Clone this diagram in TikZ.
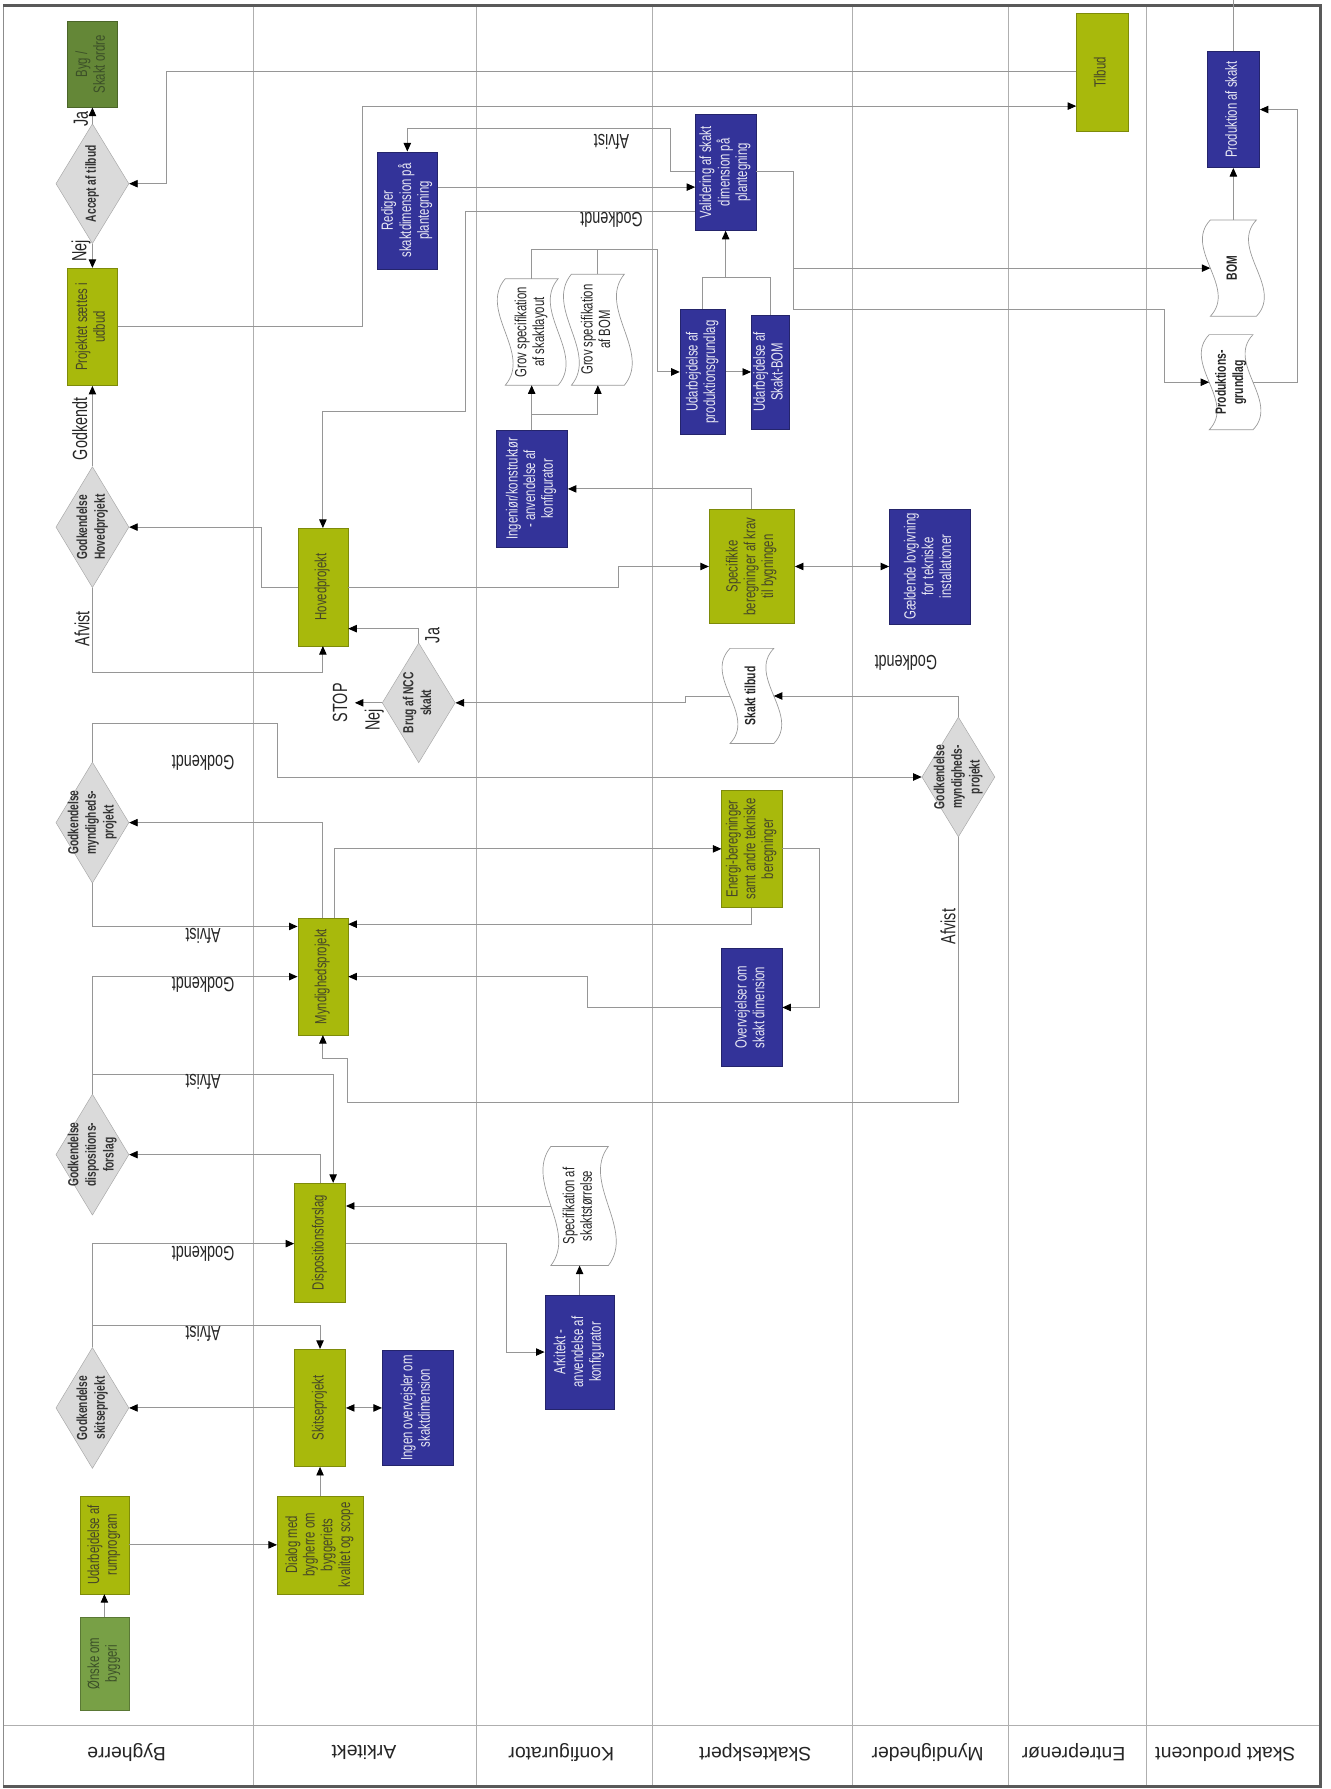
\documentclass[tikz,border=0pt]{standalone}
\usepackage{fontspec}
\setmainfont{Liberation Sans}
\newfontfamily\cf{Liberation Sans}[FakeStretch=0.7]
\usepackage{graphicx}
\usetikzlibrary{shapes.geometric,arrows.meta,calc}
\definecolor{ygreen}{RGB}{168,185,12}
\definecolor{nblue}{RGB}{51,51,153}
\definecolor{dgreenA}{RGB}{120,160,70}
\definecolor{dgreenB}{RGB}{100,135,55}
\definecolor{dgrey}{RGB}{218,218,218}
\definecolor{lgrey}{RGB}{150,150,150}
\definecolor{lanegrey}{RGB}{175,175,175}
\definecolor{ytext}{RGB}{70,70,40}
\definecolor{gtext}{RGB}{60,80,40}
\newcommand\R[1]{\rotatebox{90}{\begin{tabular}{@{}c@{}}#1\end{tabular}}}
\newcommand\wavy[1]{\draw[docline] (#1.north west) -- (#1.north east)
 .. controls ($(#1.north east)!0.3!(#1.south east)+(-24,0)$) and ($(#1.north east)!0.7!(#1.south east)+(24,0)$) .. (#1.south east)
 -- (#1.south west)
 .. controls ($(#1.south west)!0.3!(#1.north west)+(24,0)$) and ($(#1.south west)!0.7!(#1.north west)+(-24,0)$) .. cycle;}
\tikzset{
 bx/.style={inner sep=0pt, font=\cf\fontsize{14.2}{15.5}\selectfont},
 yb/.style={bx, fill=ygreen, draw=ygreen!75!black, text=ytext},
 bb/.style={bx, fill=nblue, draw=nblue!70!black, text=white!88!nblue},
 gb/.style={bx, fill=#1, draw=#1!75!black, text=gtext},
 dia/.style={diamond, fill=dgrey, draw=black!35, inner sep=0pt},
 dtxt/.style={inner sep=0pt, font=\cf\bfseries\fontsize{12.8}{15.5}\selectfont, text=black!80},
 docb/.style={inner sep=0pt},
 doctxt/.style={inner sep=0pt, font=\cf\fontsize{14.2}{15.5}\selectfont, text=black!85},
 docline/.style={draw=black!40, fill=white, line width=0.6pt},
 arr/.style={draw=lgrey, line width=0.8pt, -{Triangle[length=7.5pt,width=6.5pt,color=black]}},
 ln/.style={draw=lgrey, line width=0.8pt},
 darr/.style={draw=lgrey, line width=0.8pt, {Triangle[length=7.5pt,width=6.5pt,color=black]}-{Triangle[length=7.5pt,width=6.5pt,color=black]}},
 lab/.style={inner sep=0pt, font=\cf\fontsize{18}{18}\selectfont, text=black!85},
 lane/.style={draw=lanegrey, line width=1pt},
 lanelab/.style={inner sep=0pt, rotate=180, font=\fontsize{17}{17}\selectfont, text=black!85},
}
\begin{document}
\begin{tikzpicture}[x=1pt,y=-1pt]
\useasboundingbox (0,0) rectangle (1166,1568);
\fill[white] (0,0) rectangle (1166,1568);
% lanes
\foreach \lx in {222,418,572,747,884,1005} \draw[lane] (\lx,5) -- (\lx,1566);
\draw[lane] (3,1512) -- (1157,1512);
\draw[draw=black!45, line width=1pt] (3,5) -- (3,1566);
\draw[draw=black!65, line width=2.5pt] (3,5) -- (1157,5) -- (1157,1566) -- (3,1566);
\node[lanelab] (l1) at (111,1536) {Bygherre};
\node[lanelab] (l2) at (319,1536) {Arkitekt};
\node[lanelab] (l3) at (492,1536) {Konfigurator};
\node[lanelab] (l4) at (662,1536) {Skakteskpert};
\node[lanelab] (l5) at (813,1536) {Myndigheder};
\node[lanelab] (l6) at (941,1536) {Entreprenør};
\node[lanelab] (l7) at (1074,1536) {Skakt producent};
% Bygherre
\node[gb=dgreenA, minimum width=43pt, minimum height=82pt] (onske) at (91.5,1458) {\R{Ønske om\\byggeri}};
\node[yb, minimum width=43pt, minimum height=86pt] (rum) at (91.5,1354) {\R{Udarbejdelse af\\rumprogram}};
\node[dia, minimum width=64pt, minimum height=106pt] (gskit) at (81,1234) {};
\node[dtxt] (gskitT) at (gskit) {\R{Godkendelse\\skitseprojekt}};
\node[dia, minimum width=64pt, minimum height=106pt] (gdisp) at (81,1012) {};
\node[dtxt] (gdispT) at (gdisp) {\R{Godkendelse\\dispositions-\\forslag}};
\node[dia, minimum width=64pt, minimum height=106pt] (gmynd) at (81,721) {};
\node[dtxt] (gmyndT) at (gmynd) {\R{Godkendelse\\myndigheds-\\projekt}};
\node[dia, minimum width=64pt, minimum height=106pt] (ghoved) at (81,462) {};
\node[dtxt] (ghovedT) at (ghoved) {\R{Godkendelse\\Hovedprojekt}};
\node[yb, minimum width=44pt, minimum height=103pt] (udbud) at (81,286.5) {\R{Projektet sættes i\\udbud}};
\node[dia, minimum width=64pt, minimum height=105pt] (accept) at (81,161) {};
\node[dtxt] (acceptT) at (accept) {\R{Accept af tilbud}};
\node[gb=dgreenB, minimum width=44pt, minimum height=75pt] (byg) at (81,56.5) {\R{Byg /\\Skakt ordre}};
% Arkitekt
\node[yb, minimum width=75pt, minimum height=86pt] (dialog) at (280.5,1354) {\R{Dialog med\\bygherre om\\byggeriets\\kvalitet og scope}};
\node[yb, minimum width=45pt, minimum height=103pt] (skit) at (280.5,1234) {\R{Skitseprojekt}};
\node[bb, minimum width=62pt, minimum height=101pt] (ingen) at (366,1234) {\R{Ingen overvejsler om\\skaktdimension}};
\node[yb, minimum width=45pt, minimum height=104pt] (disp) at (280.5,1089) {\R{Dispositionsforslag}};
\node[yb, minimum width=44pt, minimum height=102pt] (mynd) at (283,856) {\R{Myndighedsprojekt}};
\node[dia, minimum width=64pt, minimum height=105pt] (ncc) at (367,616) {};
\node[dtxt] (nccT) at (ncc) {\R{Brug af NCC\\skakt}};
\node[yb, minimum width=44pt, minimum height=103pt] (hoved) at (283,514.5) {\R{Hovedprojekt}};
\node[bb, minimum width=53pt, minimum height=103pt] (rediger) at (357,184.5) {\R{Rediger\\skaktdimension på\\plantegning}};
% Konfigurator
\node[bb, minimum width=61pt, minimum height=100pt] (arkkonf) at (508,1185) {\R{Arkitekt -\\anvendelse af\\konfigurator}};
\node[docb, minimum width=50pt, minimum height=104pt] (specstr) at (508,1057) {};
\wavy{specstr}
\node[doctxt] (specstrT) at (specstr) {\R{Specifikation af\\skaktstørrelse}};
\node[bb, minimum width=63pt, minimum height=102pt] (ingkonf) at (466,428.5) {\R{Ingeniør/konstruktør\\- anvendelse af\\konfigurator}};
\node[docb, minimum width=46pt, minimum height=93pt] (grovlay) at (466,291) {};
\wavy{grovlay}
\node[doctxt] (grovlayT) at (grovlay) {\R{Grov specifikation\\af skaktlayout}};
\node[docb, minimum width=46pt, minimum height=97pt] (grovbom) at (524,289) {};
\wavy{grovbom}
\node[doctxt] (grovbomT) at (grovbom) {\R{Grov specifikation\\af BOM}};
% Skakteskpert
\node[bb, minimum width=53pt, minimum height=103pt] (overv) at (659,883) {\R{Overvejelser om\\skakt dimension}};
\node[yb, minimum width=53pt, minimum height=103pt] (energi) at (659,744) {\R{Energi-beregninger\\samt andre tekniske\\beregninger}};
\node[docb, minimum width=38pt, minimum height=83pt] (sktilbud) at (659,610) {};
\wavy{sktilbud}
\node[doctxt, font=\cf\bfseries\fontsize{13}{15}\selectfont] (sktilbudT) at (sktilbud) {\R{Skakt tilbud}};
\node[yb, minimum width=75pt, minimum height=100pt] (specif) at (659,496.5) {\R{Specifikke\\beregninger af krav\\til bygningen}};
\node[bb, minimum width=40pt, minimum height=110pt] (udprod) at (616,326) {\R{Udarbejdelse af\\produktionsgrundlag}};
\node[bb, minimum width=33pt, minimum height=100pt] (skbom) at (675,326) {\R{Udarbejdelse af\\Skakt-BOM}};
\node[bb, minimum width=53pt, minimum height=102pt] (valid) at (636,151) {\R{Validering af skakt\\dimension på\\plantegning}};
% Myndigheder
\node[bb, minimum width=71pt, minimum height=101pt] (lov) at (815,496.5) {\R{Gældende lovgivning\\for tekniske\\installationer}};
\node[dia, minimum width=64pt, minimum height=105pt] (gmyndM) at (840,681) {};
\node[dtxt] (gmyndMT) at (gmyndM) {\R{Godkendelse\\myndigheds-\\projekt}};
% Entreprenor
\node[yb, minimum width=45pt, minimum height=103pt] (tilbud) at (966,63.5) {\R{Tilbud}};
% Skakt producent
\node[bb, minimum width=46pt, minimum height=102pt] (prod) at (1081,96) {\R{Produktion af skakt}};
\node[docb, minimum width=40pt, minimum height=84pt] (bomdoc) at (1081,235) {};
\wavy{bomdoc}
\node[doctxt, font=\cf\bfseries\fontsize{13}{15}\selectfont] (bomdocT) at (bomdoc) {\R{BOM}};
\node[docb, minimum width=38pt, minimum height=83pt] (proddoc) at (1079,335) {};
\wavy{proddoc}
\node[doctxt, font=\cf\bfseries\fontsize{13}{15}\selectfont] (proddocT) at (proddoc) {\R{Produktions-\\grundlag}};
% connectors
\draw[arr] (onske.north) -- (rum.south);
\draw[arr] (rum.east) -- (dialog.west);
\draw[arr] (dialog.north) -- (skit.south);
\draw[darr] (skit.east) -- (ingen.west);
\draw[arr] (skit.west) -- (gskit.east);
\draw[arr] (gskit.north) |- (disp.west |- 0,1090);
\draw[arr] (gskit.north |- 0,1162) -| (skit.north);
\draw[arr] (disp.north) |- (gdisp.east);
\draw[arr] (gdisp.north) |- (292,941.5) -- (disp.north -| 292,0);
\draw[arr] (gdisp.north) |- (mynd.west);
\draw[arr] (specstr.west) -- (disp.east |- 0,1057);
\draw[arr] (arkkonf.north) -- (specstr.south);
\draw[arr] (disp.east |- 0,1090) -| (444,1185) -- (arkkonf.west);
\draw[arr] (mynd.north) |- (gmynd.east);
\draw[arr] (gmynd.south) |- (mynd.west |- 0,812);
\draw[arr] (gmynd.north) |- (243,634) |- (gmyndM.west);
\draw[arr] (mynd.north -| 293,0) |- (energi.west);
\draw[arr] (energi.south) |- (mynd.east |- 0,810);
\draw[arr] (energi.east) -| (718,883) -- (overv.east);
\draw[arr] (overv.west) -| (515,856) -- (mynd.east);
\draw[arr] (gmyndM.south) |- (304.5,966) -- (304.5,928) -| (mynd.south);
\draw[arr] (gmyndM.north) |- (sktilbud.east);
\draw[arr] (sktilbud.west) -- (601,610) -- (601,616) -- (ncc.east);
\coordinate (stopc) at (311,616);
\draw[arr] (ncc.west) -- (stopc);
\draw[arr] (ncc.north) |- (hoved.east |- 0,551);
\draw[arr] (ghoved.south) |- (283,589) -- (hoved.south);
\draw[arr] (hoved.west) -| (229,462) -- (ghoved.east);
\draw[arr] (ghoved.north) -- (udbud.south);
\draw[arr] (udbud.east) -| (318,93) -- (tilbud.west |- 0,93);
\draw[arr] (tilbud.west |- 0,63) -| (146,161) -- (accept.east);
\draw[arr] (accept.north) -- (byg.south);
\draw[arr] (accept.south) -- (udbud.north);
\draw[arr] (hoved.east) -| (542,496.5) -- (specif.west);
\draw[darr] (specif.east) -- (lov.west);
\draw[arr] (specif.north) |- (ingkonf.east);
\draw[arr] (ingkonf.north) -- (grovlay.south);
\draw[arr] (ingkonf.north |- 0,363) -| (grovbom.south);
\draw[ln] (grovlay.north) |- (grovbom.north |- 0,219);
\draw[arr] (grovbom.north) |- (576,219) |- (udprod.west);
\draw[arr] (udprod.east) -- (skbom.west);
\draw[ln] (udprod.north) |- (skbom.north |- 0,243) -- (skbom.north);
\draw[arr] (valid.south |- 0,243) -- (valid.south);
\draw[arr] (rediger.east |- 0,164) -- (valid.west |- 0,164);
\draw[arr] (valid.west |- 0,150) -- (588,150) |- (357,113) -- (rediger.north);
\draw[arr] (valid.west |- 0,185) -| (408,361) -| (hoved.north);
\draw[arr] (valid.east |- 0,150) -| (695,235) -- (bomdoc.west);
\draw[arr] (695,235) |- (1021,271) |- (proddoc.west);
\draw[arr] (bomdoc.north) -- (prod.south);
\draw[arr] (proddoc.east) -| (1137,96) -- (prod.east);
\draw[ln] (prod.north) -- (prod.north |- 0,0);
% labels
\node[lab, rotate=180] (a1) at (178,1169) {Afvist};
\node[lab, rotate=180] (g1) at (178,1099) {Godkendt};
\node[lab, rotate=180] (a2) at (178,948) {Afvist};
\node[lab, rotate=180] (g2) at (178,863) {Godkendt};
\node[lab, rotate=180] (a3) at (178,820) {Afvist};
\node[lab, rotate=180] (g3) at (178,669) {Godkendt};
\node[lab, rotate=180] (a4) at (536,124) {Afvist};
\node[lab, rotate=180] (g4) at (536,193) {Godkendt};
\node[lab, rotate=180] (g5) at (794,581) {Godkendt};
\node[lab, rotate=90] (g6) at (70,376) {Godkendt};
\node[lab, rotate=90] (a5) at (72,551) {Afvist};
\node[lab, rotate=90] (ja1) at (71,104) {Ja};
\node[lab, rotate=90] (nej1) at (71,220) {Nej};
\node[lab, rotate=90] (ja2) at (379,557) {Ja};
\node[lab, rotate=90] (nej2) at (328,631) {Nej};
\node[lab, rotate=90] (stop) at (298,616) {STOP};
\node[lab, rotate=90] (a6) at (831,812) {Afvist};
\end{tikzpicture}
\end{document}
